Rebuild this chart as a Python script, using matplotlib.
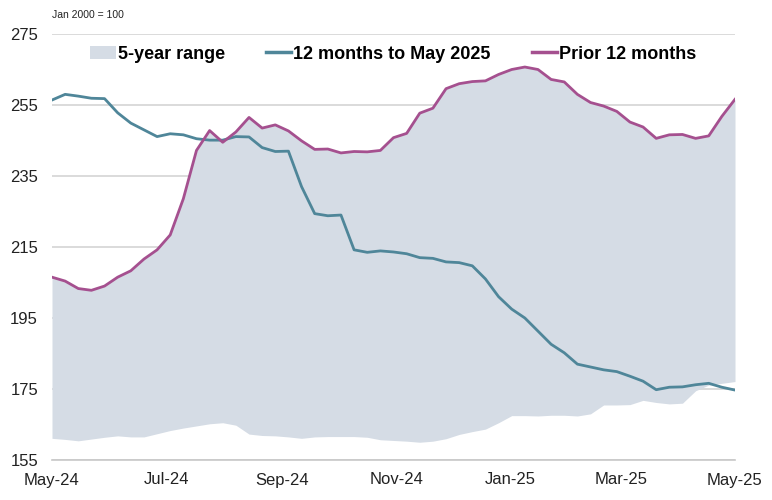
import matplotlib
matplotlib.use("Agg")
import matplotlib.pyplot as plt
import pandas as pd
from matplotlib.patches import Patch
from matplotlib.lines import Line2D

# Weekly observations, May 2024 - May 2025 (index, Jan 2000 = 100)
dates = pd.date_range("2024-05-01", "2025-05-01", periods=53)

current_12m = [256.4, 258.0, 257.5, 256.9, 256.8, 252.8, 249.9, 248.0, 246.1, 246.9,
               246.6, 245.5, 245.1, 245.1, 246.1, 246.0, 243.0, 241.9, 242.0, 232.0,
               224.4, 223.8, 224.0, 214.2, 213.5, 213.9, 213.6, 213.1, 212.0, 211.8,
               210.8, 210.6, 209.7, 206.0, 201.0, 197.5, 195.0, 191.3, 187.6, 185.2,
               182.0, 181.2, 180.4, 179.9, 178.6, 177.2, 174.8, 175.5, 175.6, 176.2,
               176.6, 175.5, 174.7]

prior_12m = [206.5, 205.4, 203.3, 202.8, 204.0, 206.5, 208.3, 211.6, 214.2, 218.4,
             228.6, 242.2, 247.8, 244.5, 247.4, 251.5, 248.5, 249.4, 247.7, 244.9,
             242.5, 242.6, 241.5, 241.9, 241.8, 242.2, 245.8, 247.0, 252.7, 254.1,
             259.6, 261.0, 261.6, 261.8, 263.6, 265.0, 265.7, 265.0, 262.2, 261.5,
             258.0, 255.7, 254.7, 253.2, 250.2, 248.8, 245.6, 246.6, 246.7, 245.6,
             246.3, 251.8, 256.6]

range_low = [161.1, 160.8, 160.4, 160.9, 161.4, 161.8, 161.5, 161.5, 162.4, 163.3,
             164.0, 164.6, 165.2, 165.5, 164.8, 162.3, 161.9, 161.8, 161.5, 161.1,
             161.5, 161.6, 161.6, 161.6, 161.4, 160.7, 160.5, 160.3, 160.0, 160.3,
             161.0, 162.2, 163.0, 163.7, 165.5, 167.5, 167.5, 167.4, 167.6, 167.6,
             167.4, 168.0, 170.5, 170.5, 170.6, 171.8, 171.2, 170.8, 171.0, 174.5,
             176.1, 176.6, 177.1]
range_high = prior_12m

y_ticks = [155, 175, 195, 215, 235, 255, 275]
x_ticks = pd.to_datetime(["2024-05-01", "2024-07-01", "2024-09-01", "2024-11-01",
                          "2025-01-01", "2025-03-01", "2025-05-01"])
x_labels = ["May-24", "Jul-24", "Sep-24", "Nov-24", "Jan-25", "Mar-25", "May-25"]

plt.rcParams["font.family"] = ["Liberation Sans", "DejaVu Sans"]

FILL = "#d5dce5"
TEAL = "#4f8699"
PURPLE = "#a5508f"

fig = plt.figure(figsize=(7.72, 5.0), dpi=100)
ax = fig.add_axes([52 / 772, 1 - 460 / 500, (735 - 52) / 772, (460 - 34) / 500])

ax.fill_between(dates, range_low, range_high, color=FILL, lw=0, zorder=2)
ax.plot(dates, current_12m, color=TEAL, lw=2.0, zorder=3)
ax.plot(dates, prior_12m, color=PURPLE, lw=2.0, zorder=4)

ax.set_ylim(155, 275)
ax.set_xlim(x_ticks[0], x_ticks[-1])
ax.set_yticks(y_ticks)
ax.set_xticks(x_ticks)
ax.set_xticklabels(x_labels)
ax.grid(axis="y", color="#d4d4d4", lw=1.2, zorder=0)
ax.set_axisbelow(True)
for s in ["left", "right", "top"]:
    ax.spines[s].set_visible(False)
ax.spines["bottom"].set_color("#c8c8c8")
ax.spines["bottom"].set_linewidth(1.2)
ax.tick_params(axis="both", length=0, labelsize=12, colors="#222222")
ax.tick_params(axis="x", pad=9)
ax.tick_params(axis="y", pad=10)

handles = [Patch(facecolor=FILL, edgecolor="none"),
           Line2D([0], [0], color=TEAL, lw=2.5),
           Line2D([0], [0], color=PURPLE, lw=2.5)]
labels = ["5-year range", "12 months to May 2025", "Prior 12 months"]
ax.legend(handles, labels, loc="upper center", bbox_to_anchor=(0.5, 1.0), ncol=3,
          frameon=False, prop={"weight": "bold", "size": 13},
          handlelength=1.4, handletextpad=0.1, columnspacing=2.3,
          borderaxespad=0.25)

fig.text(52 / 772, 1 - 15 / 500, "Jan 2000 = 100", fontsize=7.5, ha="left", va="center",
         color="#222222")

fig.savefig("out.png", dpi=100)
